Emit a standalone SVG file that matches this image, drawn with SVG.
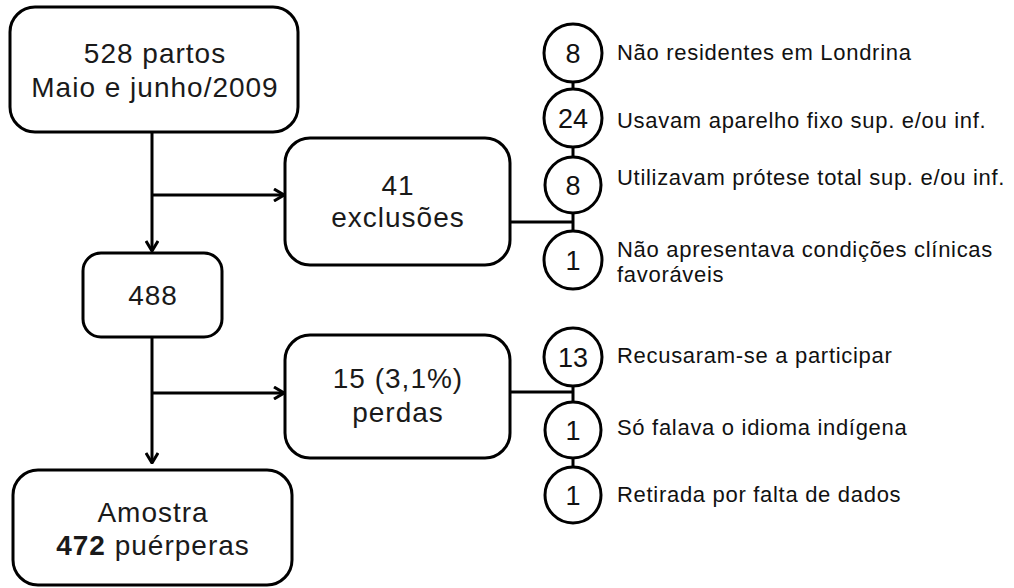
<svg xmlns="http://www.w3.org/2000/svg" width="1014" height="588" viewBox="0 0 1014 588">
<style>
.box{fill:#fff;stroke:#000;stroke-width:3}
.circ{fill:#fff;stroke:#000;stroke-width:3}
.bt{font-family:"Liberation Sans",Arial,sans-serif;font-size:28px;fill:#1a1a1a;text-anchor:middle;letter-spacing:1px}
.ct{font-family:"Liberation Sans",Arial,sans-serif;font-size:27px;fill:#111;text-anchor:middle}
.lt{font-family:"Liberation Sans",Arial,sans-serif;font-size:22px;fill:#111;letter-spacing:0.7px}
.ln{fill:none;stroke:#000;stroke-width:3}
</style>
<defs>
<marker id="ah" markerWidth="12" markerHeight="14" refX="11" refY="7" orient="auto" markerUnits="userSpaceOnUse">
<path d="M1,1 L11,7 L1,13" fill="none" stroke="#000" stroke-width="3"/>
</marker>
</defs>
<g id="connectors">
<path class="ln" d="M152,132 V251" marker-end="url(#ah)"/>
<path class="ln" d="M152,195 H284" marker-end="url(#ah)"/>
<path class="ln" d="M152,337 V463" marker-end="url(#ah)"/>
<path class="ln" d="M152,393 H284" marker-end="url(#ah)"/>
<path class="ln" d="M510,222 H573"/>
<path class="ln" d="M510,392 H573"/>
<path class="ln" d="M573,52 V258"/>
<path class="ln" d="M573,357 V495"/>
</g>
<g id="n528">
<rect class="box" x="10" y="7" width="288" height="125" rx="25"/>
<text class="bt" x="155" y="63">528 partos</text>
<text class="bt" x="155" y="97">Maio e junho/2009</text>
</g>
<g id="n41">
<rect class="box" x="285" y="138" width="225" height="127" rx="25"/>
<text class="bt" x="398" y="195">41</text>
<text class="bt" x="398" y="227">exclusões</text>
</g>
<g id="n488">
<rect class="box" x="83" y="253" width="139" height="84" rx="18"/>
<text class="bt" x="153" y="305">488</text>
</g>
<g id="n15">
<rect class="box" x="285" y="335" width="225" height="123" rx="25"/>
<text class="bt" x="398" y="388">15 (3,1%)</text>
<text class="bt" x="398" y="422">perdas</text>
</g>
<g id="n472">
<rect class="box" x="13" y="470" width="279" height="115" rx="25"/>
<text class="bt" x="153" y="522">Amostra</text>
<text class="bt" x="153" y="555"><tspan font-weight="bold">472</tspan> puérperas</text>
</g>
<g id="c1">
<circle class="circ" cx="573" cy="53" r="29"/>
<text class="ct" x="573" y="63">8</text>
<text class="lt" x="617" y="60">Não residentes em  Londrina</text>
</g>
<g id="c2">
<circle class="circ" cx="573" cy="118" r="29"/>
<text class="ct" x="573" y="128">24</text>
<text class="lt" x="617" y="128">Usavam aparelho fixo sup. e/ou inf.</text>
</g>
<g id="c3">
<circle class="circ" cx="573" cy="185" r="28"/>
<text class="ct" x="573" y="195">8</text>
<text class="lt" x="617" y="185">Utilizavam prótese total sup. e/ou inf.</text>
</g>
<g id="c4">
<circle class="circ" cx="573" cy="260" r="29"/>
<text class="ct" x="573" y="270">1</text>
<text class="lt" x="617" y="257">Não apresentava condições clínicas</text>
<text class="lt" x="617" y="282">favoráveis</text>
</g>
<g id="c5">
<circle class="circ" cx="573" cy="357" r="29"/>
<text class="ct" x="573" y="367">13</text>
<text class="lt" x="617" y="363">Recusaram-se a participar</text>
</g>
<g id="c6">
<circle class="circ" cx="573" cy="430" r="28"/>
<text class="ct" x="573" y="440">1</text>
<text class="lt" x="617" y="435">Só falava o idioma indígena</text>
</g>
<g id="c7">
<circle class="circ" cx="573" cy="495" r="28"/>
<text class="ct" x="573" y="505">1</text>
<text class="lt" x="617" y="502">Retirada por falta de dados</text>
</g>
</svg>
